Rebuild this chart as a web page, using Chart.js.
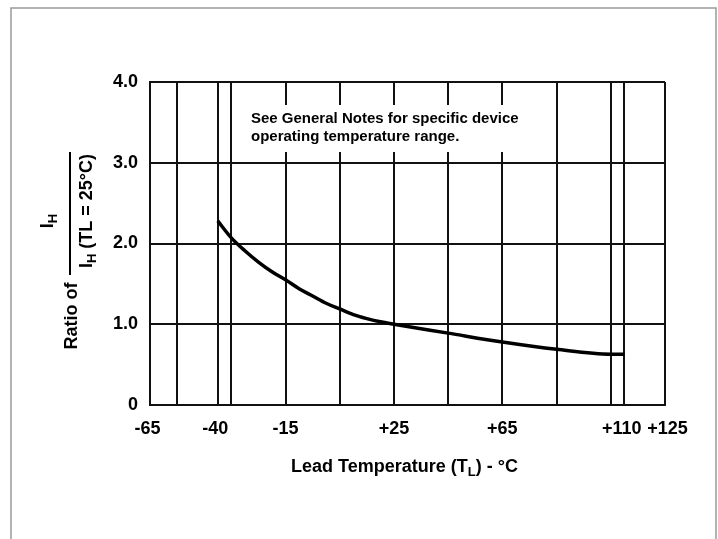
<!DOCTYPE html>
<html>
<head>
<meta charset="utf-8">
<script src="https://cdn.jsdelivr.net/npm/chart.js@4.4.1/dist/chart.umd.min.js"></script>
<style>
  html, body { margin: 0; padding: 0; background: #fff; }
</style>
</head>
<body>
<canvas id="myChart" width="718" height="539"></canvas>
<script>
var temps = [-40, -35, -30, -25, -20, -15, -10, -5, 0, 5, 10, 15, 20, 25, 45, 65, 85, 105, 110];
var ratio = [2.28, 2.07, 1.91, 1.77, 1.65, 1.55, 1.44, 1.35, 1.26, 1.19, 1.12, 1.07, 1.03, 1.0, 0.89, 0.78, 0.69, 0.63, 0.63];
var gridTemps = [-65, -55, -40, -35, -15, 5, 25, 45, 65, 85, 105, 110, 125];
var labelTemps = [-65, -40, -15, 25, 65, 110, 125];
var labelText = ["-65 ", "-40 ", "-15", "+25", "+65", "+110 ", " +125"];
var noteLines = ["See General Notes for specific device", "operating temperature range."];

var FONT = "'Liberation Sans', Arial, sans-serif";

function drawRuns(ctx, runs, x, y) {
	var total = 0;
	runs.forEach(function(r) {
		ctx.font = r.font;
		r.w = ctx.measureText(r.text).width;
		total += r.w;
	});
	var cx = x - total / 2;
	runs.forEach(function(r) {
		ctx.font = r.font;
		ctx.fillText(r.text, cx, y + (r.dy || 0));
		cx += r.w;
	});
}

var extras = {
	id: 'extras',
	beforeDraw: function(chart) {
		var ctx = chart.ctx;
		ctx.save();
		ctx.strokeStyle = '#9a9a9a';
		ctx.lineWidth = 1.5;
		ctx.strokeRect(11, 8, 705, 560);
		ctx.restore();
	},
	beforeDatasetsDraw: function(chart) {
		// white box with the note, covers the grid lines
		var ctx = chart.ctx;
		var a = chart.chartArea;
		ctx.save();
		ctx.fillStyle = '#fff';
		ctx.fillRect(a.left + 92, a.top + 23, 292, 47);
		ctx.fillStyle = '#000';
		ctx.font = 'bold 15px ' + FONT;
		ctx.textAlign = 'left';
		ctx.textBaseline = 'middle';
		ctx.fillText(noteLines[0], a.left + 101, a.top + 37);
		ctx.fillText(noteLines[1], a.left + 101, a.top + 55);
		ctx.restore();
	},
	afterDraw: function(chart) {
		var ctx = chart.ctx;
		var a = chart.chartArea;
		var big = 'bold 18px ' + FONT;
		var small = 'bold 13px ' + FONT;
		ctx.save();
		ctx.fillStyle = '#000';
		ctx.textAlign = 'left';
		ctx.textBaseline = 'middle';

		// x axis title
		drawRuns(ctx, [
			{ text: 'Lead Temperature (T', font: big },
			{ text: 'L', font: small, dy: 5 },
			{ text: ') - \u00b0C', font: big }
		], (a.left + a.right) / 2 - 3, a.bottom + 62);

		// y axis title, rotated
		ctx.translate(70, 0);
		ctx.rotate(-Math.PI / 2);
		drawRuns(ctx, [{ text: 'Ratio of', font: big }], -316, 2);
		ctx.fillRect(-275, -1, 123, 2);
		drawRuns(ctx, [
			{ text: 'I', font: big },
			{ text: 'H', font: small, dy: 5 }
		], -221, -22);
		drawRuns(ctx, [
			{ text: 'I', font: big },
			{ text: 'H', font: small, dy: 5 },
			{ text: ' (TL = 25\u00b0C)', font: big }
		], -211, 17);
		ctx.restore();
	}
};

var ctx = document.getElementById('myChart').getContext('2d');
var chart = new Chart(ctx, {
	type: 'line',
	data: {
		datasets: [{
			data: temps.map(function(t, i) { return { x: t, y: ratio[i] }; }),
			borderColor: '#000',
			borderWidth: 3.5,
			pointRadius: 0,
			fill: false,
			cubicInterpolationMode: 'monotone'
		}]
	},
	options: {
		responsive: false,
		animation: false,
		layout: { padding: { left: 0, top: 82, right: 53, bottom: 0 } },
		plugins: { legend: { display: false }, tooltip: { enabled: false } },
		scales: {
			x: {
				type: 'linear',
				min: -65,
				max: 125,
				afterBuildTicks: function(scale) {
					scale.ticks = gridTemps.map(function(v) { return { value: v }; });
				},
				afterFit: function(scale) { scale.height = 134; },
				grid: { color: '#111', lineWidth: 2, drawTicks: false },
				border: { color: '#111', width: 2 },
				ticks: {
					autoSkip: false,
					maxRotation: 0,
					padding: 13,
					color: '#000',
					font: { family: FONT, size: 18, weight: 'bold' },
					callback: function(v) {
						var i = labelTemps.indexOf(v);
						return i < 0 ? '' : labelText[i];
					}
				}
			},
			y: {
				min: 0,
				max: 4,
				afterFit: function(scale) { scale.width = 150; },
				grid: { color: '#111', lineWidth: 2, drawTicks: false },
				border: { color: '#111', width: 2 },
				ticks: {
					stepSize: 1,
					padding: 12,
					color: '#000',
					font: { family: FONT, size: 18, weight: 'bold' },
					callback: function(v) { return v === 0 ? '0' : v.toFixed(1); }
				}
			}
		}
	},
	plugins: [extras]
});
</script>
</body>
</html>
